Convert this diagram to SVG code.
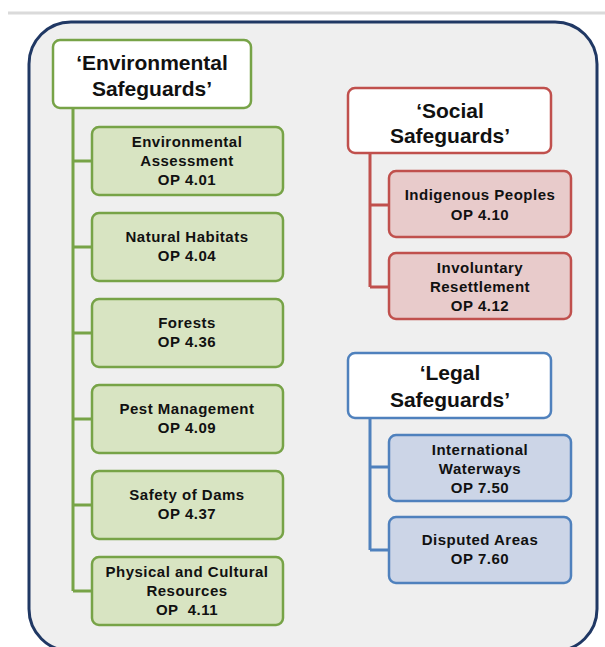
<svg xmlns="http://www.w3.org/2000/svg" width="605" height="647" viewBox="0 0 605 647">
<style>
text{font-family:"Liberation Sans",Arial,sans-serif;font-weight:bold;fill:#111;text-anchor:middle}
.h{font-size:21px}
.c{font-size:15px;letter-spacing:0.5px}
.hb{fill:#fff;stroke-width:2.5}
.cb{stroke-width:2.5}
.g{stroke:#77a347}
.r{stroke:#c0504d}
.b{stroke:#4f81bd}
.gf{fill:#d8e4c2}
.rf{fill:#e8cbcb}
.bf{fill:#ccd5e7}
.ln{fill:none;stroke-width:3}
</style>
<rect width="605" height="647" fill="#fff"/>
<line x1="8" y1="13" x2="605" y2="13" stroke="#dadada" stroke-width="3"/>
<rect x="29" y="22" width="568" height="629" rx="42" fill="#efefef" stroke="#203864" stroke-width="3"/>
<g id="connectors">
<path class="ln g" d="M73 108V591M73 161H92M73 247H92M73 333H92M73 419H92M73 505H92M73 591H92"/>
<path class="ln r" d="M370 153V287M370 205H389M370 287H389"/>
<path class="ln b" d="M370 418V550M370 467H389M370 550H389"/>
</g>
<g id="env">
<rect class="hb g" x="53" y="40" width="198" height="68" rx="7"/>
<text class="h" x="152" y="70">‘Environmental</text>
<text class="h" x="152" y="96">Safeguards’</text>
</g>
<g id="ea">
<rect class="cb g gf" x="92" y="127" width="191" height="68" rx="7"/>
<text class="c" x="187" y="147">Environmental</text>
<text class="c" x="187" y="166">Assessment</text>
<text class="c" x="187" y="185">OP 4.01</text>
</g>
<g id="nh">
<rect class="cb g gf" x="92" y="213" width="191" height="68" rx="7"/>
<text class="c" x="187" y="242">Natural Habitats</text>
<text class="c" x="187" y="261">OP 4.04</text>
</g>
<g id="fo">
<rect class="cb g gf" x="92" y="299" width="191" height="68" rx="7"/>
<text class="c" x="187" y="328">Forests</text>
<text class="c" x="187" y="347">OP 4.36</text>
</g>
<g id="pm">
<rect class="cb g gf" x="92" y="385" width="191" height="68" rx="7"/>
<text class="c" x="187" y="414">Pest Management</text>
<text class="c" x="187" y="433">OP 4.09</text>
</g>
<g id="sd">
<rect class="cb g gf" x="92" y="471" width="191" height="68" rx="7"/>
<text class="c" x="187" y="500">Safety of Dams</text>
<text class="c" x="187" y="519">OP 4.37</text>
</g>
<g id="pc">
<rect class="cb g gf" x="92" y="557" width="191" height="68" rx="7"/>
<text class="c" x="187" y="577">Physical and Cultural</text>
<text class="c" x="187" y="596">Resources</text>
<text class="c" x="187" y="615" xml:space="preserve">OP  4.11</text>
</g>
<g id="social">
<rect class="hb r" x="348" y="88" width="203" height="65" rx="7"/>
<text class="h" x="450" y="118">‘Social</text>
<text class="h" x="450" y="143">Safeguards’</text>
</g>
<g id="ip">
<rect class="cb r rf" x="389" y="171" width="182" height="66" rx="7"/>
<text class="c" x="480" y="200">Indigenous Peoples</text>
<text class="c" x="480" y="220">OP 4.10</text>
</g>
<g id="ir">
<rect class="cb r rf" x="389" y="253" width="182" height="66" rx="7"/>
<text class="c" x="480" y="273">Involuntary</text>
<text class="c" x="480" y="292">Resettlement</text>
<text class="c" x="480" y="311">OP 4.12</text>
</g>
<g id="legal">
<rect class="hb b" x="348" y="353" width="203" height="65" rx="7"/>
<text class="h" x="450" y="380">‘Legal</text>
<text class="h" x="450" y="407">Safeguards’</text>
</g>
<g id="iw">
<rect class="cb b bf" x="389" y="435" width="182" height="66" rx="7"/>
<text class="c" x="480" y="455">International</text>
<text class="c" x="480" y="474">Waterways</text>
<text class="c" x="480" y="493">OP 7.50</text>
</g>
<g id="da">
<rect class="cb b bf" x="389" y="517" width="182" height="66" rx="7"/>
<text class="c" x="480" y="545">Disputed Areas</text>
<text class="c" x="480" y="564">OP 7.60</text>
</g>
</svg>
